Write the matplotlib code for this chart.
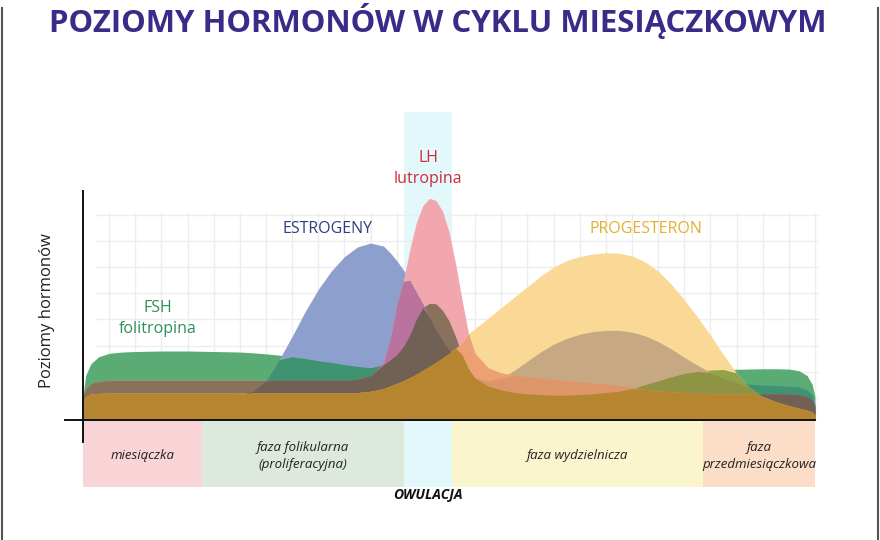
import itertools
import numpy as np
import matplotlib
matplotlib.use('Agg')
import matplotlib.pyplot as plt
from matplotlib import font_manager
from matplotlib.lines import Line2D

# cycle days (x) and hormone levels (arbitrary units)
days = [0, 0.1, 0.3, 0.6, 1, 1.5, 2, 2.5, 3, 3.5, 4, 4.5, 5, 5.5, 6, 6.5, 7, 7.5,
        8, 8.5, 9, 9.5, 10, 10.5, 11, 11.5, 11.75, 12, 12.25, 12.5, 12.75, 13,
        13.25, 13.5, 13.75, 14, 14.25, 14.5, 14.75, 15, 15.5, 16, 16.5, 17, 17.5,
        18, 18.5, 19, 19.5, 20, 20.5, 21, 21.5, 22, 22.5, 23, 23.5, 24, 24.5, 25,
        25.5, 26, 26.5, 27, 27.4, 27.7, 27.9, 28]

fsh = [0.9, 1.7, 2.15, 2.42, 2.55, 2.6, 2.62, 2.63, 2.64, 2.64, 2.64, 2.63, 2.62, 2.61,
       2.6, 2.57, 2.53, 2.48, 2.42, 2.35, 2.27, 2.2, 2.12, 2.05, 2.0, 2.12, 2.3, 2.5,
       2.8, 3.25, 3.85, 4.3, 4.46, 4.45, 4.2, 3.8, 3.2, 2.5, 1.95, 1.6, 1.3, 1.15, 1.05,
       1.0, 0.97, 0.95, 0.95, 0.97, 1.0, 1.05, 1.1, 1.2, 1.35, 1.5, 1.65, 1.78, 1.86,
       1.91, 1.93, 1.94, 1.95, 1.96, 1.96, 1.95, 1.88, 1.7, 1.35, 0.9]

estrogen = [0.6, 0.8, 0.9, 0.95, 0.97, 0.97, 0.97, 0.97, 0.97, 0.97, 0.97, 0.97, 0.97,
            0.97, 0.98, 1.1, 1.5, 2.3, 3.2, 4.15, 5.0, 5.7, 6.25, 6.62, 6.77, 6.65,
            6.4, 6.1, 5.75, 5.35, 4.9, 4.45, 3.95, 3.45, 3.05, 2.7, 2.35, 2.05, 1.8, 1.6,
            1.5, 1.6, 1.9, 2.25, 2.6, 2.9, 3.12, 3.28, 3.38, 3.43, 3.43, 3.36, 3.22,
            3.0, 2.72, 2.4, 2.1, 1.82, 1.6, 1.45, 1.38, 1.34, 1.32, 1.3, 1.27, 1.15,
            0.95, 0.6]

lh = [0.9, 1.2, 1.4, 1.48, 1.52, 1.52, 1.52, 1.52, 1.52, 1.52, 1.52, 1.52, 1.52, 1.52,
      1.52, 1.52, 1.52, 1.52, 1.52, 1.52, 1.52, 1.52, 1.52, 1.55, 1.7, 2.2, 3.1, 4.4,
      5.3, 6.5, 7.55, 8.2, 8.48, 8.4, 8.0, 7.2, 6.0, 4.6, 3.3, 2.55, 2.0, 1.8, 1.72,
      1.66, 1.6, 1.55, 1.5, 1.46, 1.42, 1.38, 1.32, 1.25, 1.18, 1.12, 1.08, 1.05,
      1.03, 1.0, 1.0, 1.0, 1.0, 1.0, 1.0, 1.0, 0.97, 0.9, 0.75, 0.5]

progesterone = [0.7, 0.9, 1.0, 1.02, 1.03, 1.03, 1.03, 1.03, 1.03, 1.03, 1.03, 1.03,
                1.03, 1.03, 1.03, 1.03, 1.03, 1.03, 1.03, 1.03, 1.03, 1.03, 1.03, 1.05,
                1.1, 1.2, 1.3, 1.4, 1.5, 1.62, 1.75, 1.9, 2.05, 2.2, 2.37, 2.55, 2.75,
                2.95, 3.3, 3.5, 3.9, 4.3, 4.7, 5.1, 5.5, 5.85, 6.1, 6.25, 6.35, 6.4, 6.38,
                6.28, 6.05, 5.7, 5.2, 4.6, 3.95, 3.25, 2.5, 1.8, 1.25, 0.9, 0.7, 0.55,
                0.45, 0.38, 0.3, 0.2]

hormones = ['FSH', 'E', 'LH', 'P']
levels = {'FSH': fsh, 'E': estrogen, 'LH': lh, 'P': progesterone}

# colours of areas where given hormones overlap
overlap_colors = {
    ('FSH',): '#5aab74', ('E',): '#8d9fcc', ('LH',): '#f2a7af', ('P',): '#f9d995',
    ('FSH', 'E'): '#3f9371', ('FSH', 'LH'): '#8a715b', ('FSH', 'P'): '#8fa34a',
    ('E', 'LH'): '#b9739e', ('E', 'P'): '#c6a983', ('LH', 'P'): '#eca074',
    ('FSH', 'E', 'LH'): '#716054', ('FSH', 'E', 'P'): '#8f9444',
    ('FSH', 'LH', 'P'): '#b5862f', ('E', 'LH', 'P'): '#dc966a',
    ('FSH', 'E', 'LH', 'P'): '#b5862f',
}

phase_names = ['miesiączka', 'faza folikularna\n(proliferacyjna)', '',
               'faza wydzielnicza', 'faza\nprzedmiesiączkowa']
phase_edges = [0, 4.55, 12.28, 14.12, 23.72, 28]
phase_colors = ['#f8d4d7', '#dde9dd', '#e2f8fa', '#fbf5cd', '#fcddc8']

names = {f.name for f in font_manager.fontManager.ttflist}
def pick(*cands):
    for c in cands:
        if c in names:
            return c
    return 'DejaVu Sans'

title_font = pick('Open Sans', 'Lato')
label_font = pick('Open Sans', 'Lato')
phase_font = pick('Open Sans', 'Lato')

PX = 26.14  # pixels per unit
fig = plt.figure(figsize=(8.8, 5.4), dpi=100)
ax = fig.add_axes([0, 0, 1, 1])
ax.set_xlim(-83 / PX, (880 - 83) / PX)
ax.set_ylim(-120 / PX, 420 / PX)
ax.axis('off')

# ovulation band
ax.fill_between([phase_edges[2], phase_edges[3]], -2.56, 11.78, color=phase_colors[2],
                lw=0, zorder=0)

# faint grid
for d in range(1, 29):
    ax.plot([d, d], [0, 7.9], color='#ededed', lw=1, zorder=1)
for h in np.arange(1, 9) - 0.15:
    ax.plot([0.5, 28.1], [h, h], color='#ededed', lw=1, zorder=1)

# hormone areas, overlaps painted from single to all
x = np.array(days)
for k in range(1, 5):
    for combo in itertools.combinations(hormones, k):
        top = np.minimum.reduce([np.array(levels[h]) for h in combo])
        ax.fill_between(x, 0, top, color=overlap_colors[combo], lw=0, zorder=2)

# phases below the axis
for i in range(len(phase_names)):
    ax.bar(phase_edges[i], 2.56, width=phase_edges[i + 1] - phase_edges[i], bottom=-2.56,
           align='edge', color=phase_colors[i], lw=0, zorder=1)
    ax.text((phase_edges[i] + phase_edges[i + 1]) / 2, -1.36, phase_names[i],
            ha='center', va='center', fontsize=9.5, style='italic', family=phase_font,
            color='#222222', linespacing=1.4, zorder=4)
ax.text((phase_edges[2] + phase_edges[3]) / 2, -2.87, 'OWULACJA', ha='center',
        va='center', fontsize=10, style='italic', weight='bold', family=phase_font,
        color='#111111')

# axes lines
ax.plot([0, 0], [-0.84, 8.75], color='#111111', lw=1.4, zorder=3)
ax.plot([-0.7, 28], [0, 0], color='#111111', lw=1.4, zorder=3)

ax.text(-1.38, 4.2, 'Poziomy hormonów', rotation=90, ha='center', va='center',
        fontsize=12, family=label_font, color='#222222')

ax.text(2.87, 3.88, 'FSH\nfolitropina', ha='center', va='center', fontsize=11.5,
        family=label_font, color='#2e9058', linespacing=1.4)
ax.text(9.37, 7.31, 'ESTROGENY', ha='center', va='center', fontsize=11.5,
        family=label_font, color='#2e3f80')
ax.text(13.2, 9.62, 'LH\nlutropina', ha='center', va='center', fontsize=11.5,
        family=label_font, color='#d0293b', linespacing=1.4)
ax.text(21.54, 7.31, 'PROGESTERON', ha='center', va='center', fontsize=11.5,
        family=label_font, color='#e0b030')

title = fig.text(0.498, 1 - 21 / 540, 'POZIOMY HORMONÓW W CYKLU MIESIĄCZKOWYM',
                 ha='center', va='center', fontsize=24, weight='bold',
                 family=title_font, color='#3b2a87')
fig.canvas.draw()
w = title.get_window_extent().width
title.set_fontsize(24 * 780 / w)

# frame lines at the picture edges
fig.add_artist(Line2D([0.002, 0.002], [0, 0.985], transform=fig.transFigure,
                      color='#555555', lw=1.5))
fig.add_artist(Line2D([0.998, 0.998], [0, 0.985], transform=fig.transFigure,
                      color='#555555', lw=1.5))

fig.savefig('out.png', dpi=100)
